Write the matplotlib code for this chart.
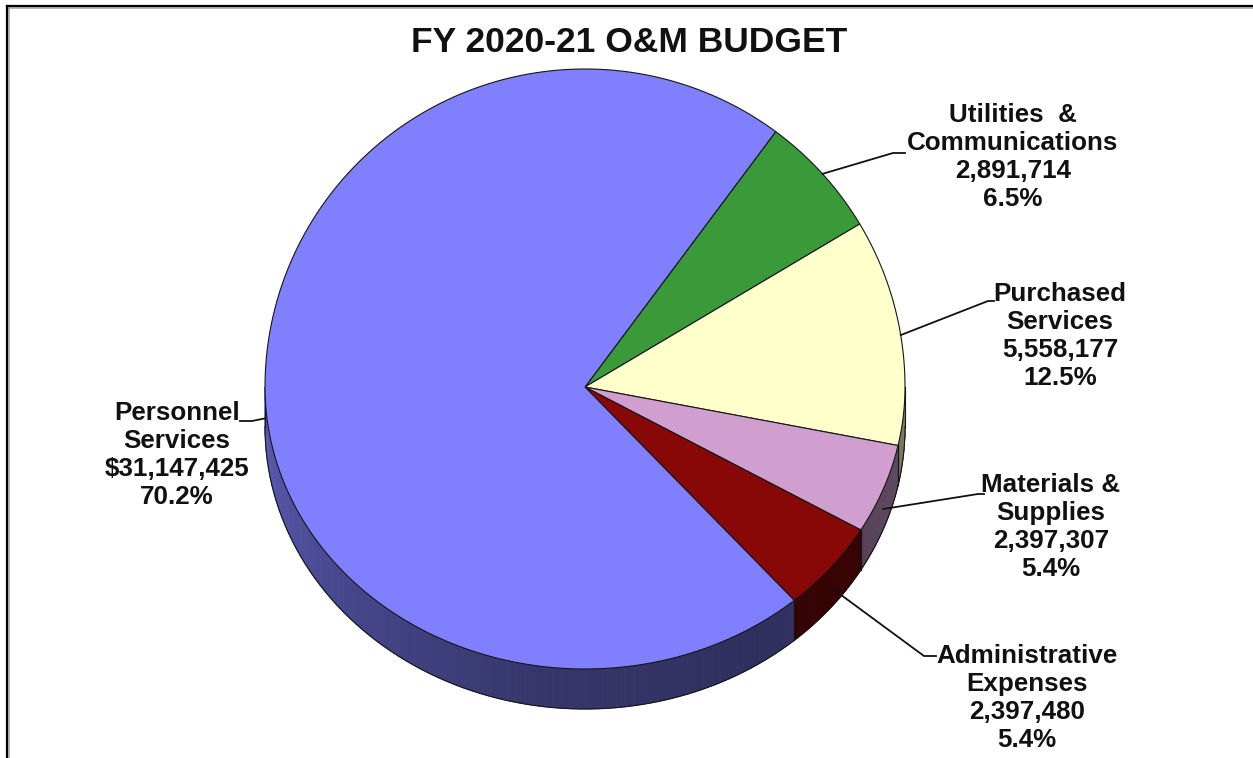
import numpy as np
import matplotlib.pyplot as plt
from matplotlib.patches import Polygon
from matplotlib.lines import Line2D

plt.rcParams['font.family'] = ['Liberation Sans', 'DejaVu Sans']

# slices in clockwise order, starting at the top-right
categories = ["Utilities  &\nCommunications", "Purchased\nServices",
              "Materials &\nSupplies", "Administrative\nExpenses",
              "Personnel\nServices"]
amounts = [2891714, 5558177, 2397307, 2397480, 31147425]
prefixes = ["", "", "", "", "$"]
colors = ["#3A9A3A", "#FFFFCC", "#D09FD0", "#880808", "#8080FF"]

# label placement (centre of text block) and leader elbows
label_xy = [(1013, 157), (1060, 336), (1051, 527), (1027, 698), (177, 455)]
elbow_xy = [(893, 153), (988, 301), (978, 494), (924, 656), (252, 421)]
end_x = [905, 994, 984, 936, 240]

W, H = 1253, 758
cx, cy = 585, 387          # apex of the pie on the page
a, b_up, b_dn = 320, 318, 282
depth = 40
start = 55.9
skew = 3.0                 # slight angular distortion from the tilted view


def rim(theta_deg):
    # warp the true angle a little, then place it on the tilted ellipse
    t = np.radians(theta_deg)
    t = t - np.radians(skew) * np.sin(t)
    b = np.where(np.sin(t) > 0, b_up, b_dn)
    return cx + a * np.cos(t), cy - b * np.sin(t)


def shade(theta_deg):
    phi = np.asarray(theta_deg) % 360
    return np.interp(phi, [180, 220, 260, 300, 330, 360],
                     [0.72, 0.55, 0.42, 0.37, 0.42, 0.50])


fig = plt.figure(figsize=(W / 100, H / 100), dpi=100)
ax = fig.add_axes([0, 0, 1, 1])
ax.set_xlim(0, W)
ax.set_ylim(H, 0)
ax.axis("off")

total = sum(amounts)
spans = [v / total * 360 for v in amounts]
bounds = []
hi = start
for s in spans:
    bounds.append((hi - s, hi))
    hi -= s

# side walls (only the front half is visible)
for (lo, hi), col in zip(bounds, colors):
    s_lo, s_hi = max(lo, -180), min(hi, 0)
    if s_hi <= s_lo:
        continue
    base = np.array(plt.matplotlib.colors.to_rgb(col))
    th = np.linspace(s_lo, s_hi, 80)
    xs, ys = rim(th)
    for i in range(len(th) - 1):
        c = np.clip(base * shade((th[i] + th[i + 1]) / 2), 0, 1)
        quad = [(xs[i], ys[i]), (xs[i + 1], ys[i + 1]),
                (xs[i + 1], ys[i + 1] + depth), (xs[i], ys[i] + depth)]
        ax.add_patch(Polygon(quad, closed=True, facecolor=c, edgecolor=c,
                             lw=0.6, zorder=1))
    ax.plot(xs, ys + depth, color="#151515", lw=0.8, zorder=2)
    for e in (s_lo, s_hi):
        ex, ey = rim(e)
        ax.plot([ex, ex], [ey, ey + depth], color="#151515", lw=0.8, zorder=2)

# top faces
for (lo, hi), col in zip(bounds, colors):
    th = np.linspace(hi, lo, 200)
    xs, ys = rim(th)
    pts = [(cx, cy)] + list(zip(xs, ys))
    ax.add_patch(Polygon(pts, closed=True, facecolor=col, edgecolor="#151515",
                         lw=0.8, zorder=3))

# labels and leader lines
for i, (lo, hi) in enumerate(bounds):
    mid = (lo + hi) / 2
    sx, sy = rim(mid)
    if np.sin(np.radians(mid)) < 0:
        sy = sy + depth / 2
    ex, ey = elbow_xy[i]
    ax.plot([sx, ex, end_x[i]], [sy, ey, ey], color="#111111", lw=1.3, zorder=4)
    pct = amounts[i] / total * 100
    txt = "{}\n{}{:,}\n{:.1f}%".format(categories[i], prefixes[i], amounts[i], pct)
    ax.text(label_xy[i][0], label_xy[i][1], txt, ha="center", va="center",
            fontsize=18.7, fontweight="bold", color="#111111", linespacing=1.2,
            zorder=5)

ax.text(629, 43, "FY 2020-21 O&M BUDGET", ha="center", va="center",
        fontsize=25.5, fontweight="bold", color="#111111")

# page frame along top and left edge
fig.add_artist(Line2D([7 / W, 1], [1 - 8 / H, 1 - 8 / H], transform=fig.transFigure,
                      color="#aaaaaa", lw=1.2))
fig.add_artist(Line2D([9 / W, 9 / W], [0, 1 - 8 / H], transform=fig.transFigure,
                      color="#aaaaaa", lw=1.2))
fig.add_artist(Line2D([7 / W, 1], [1 - 6 / H, 1 - 6 / H], transform=fig.transFigure,
                      color="black", lw=1.6))
fig.add_artist(Line2D([7 / W, 7 / W], [0, 1 - 6 / H], transform=fig.transFigure,
                      color="black", lw=1.6))

fig.savefig("out.png", dpi=100, facecolor="white")
